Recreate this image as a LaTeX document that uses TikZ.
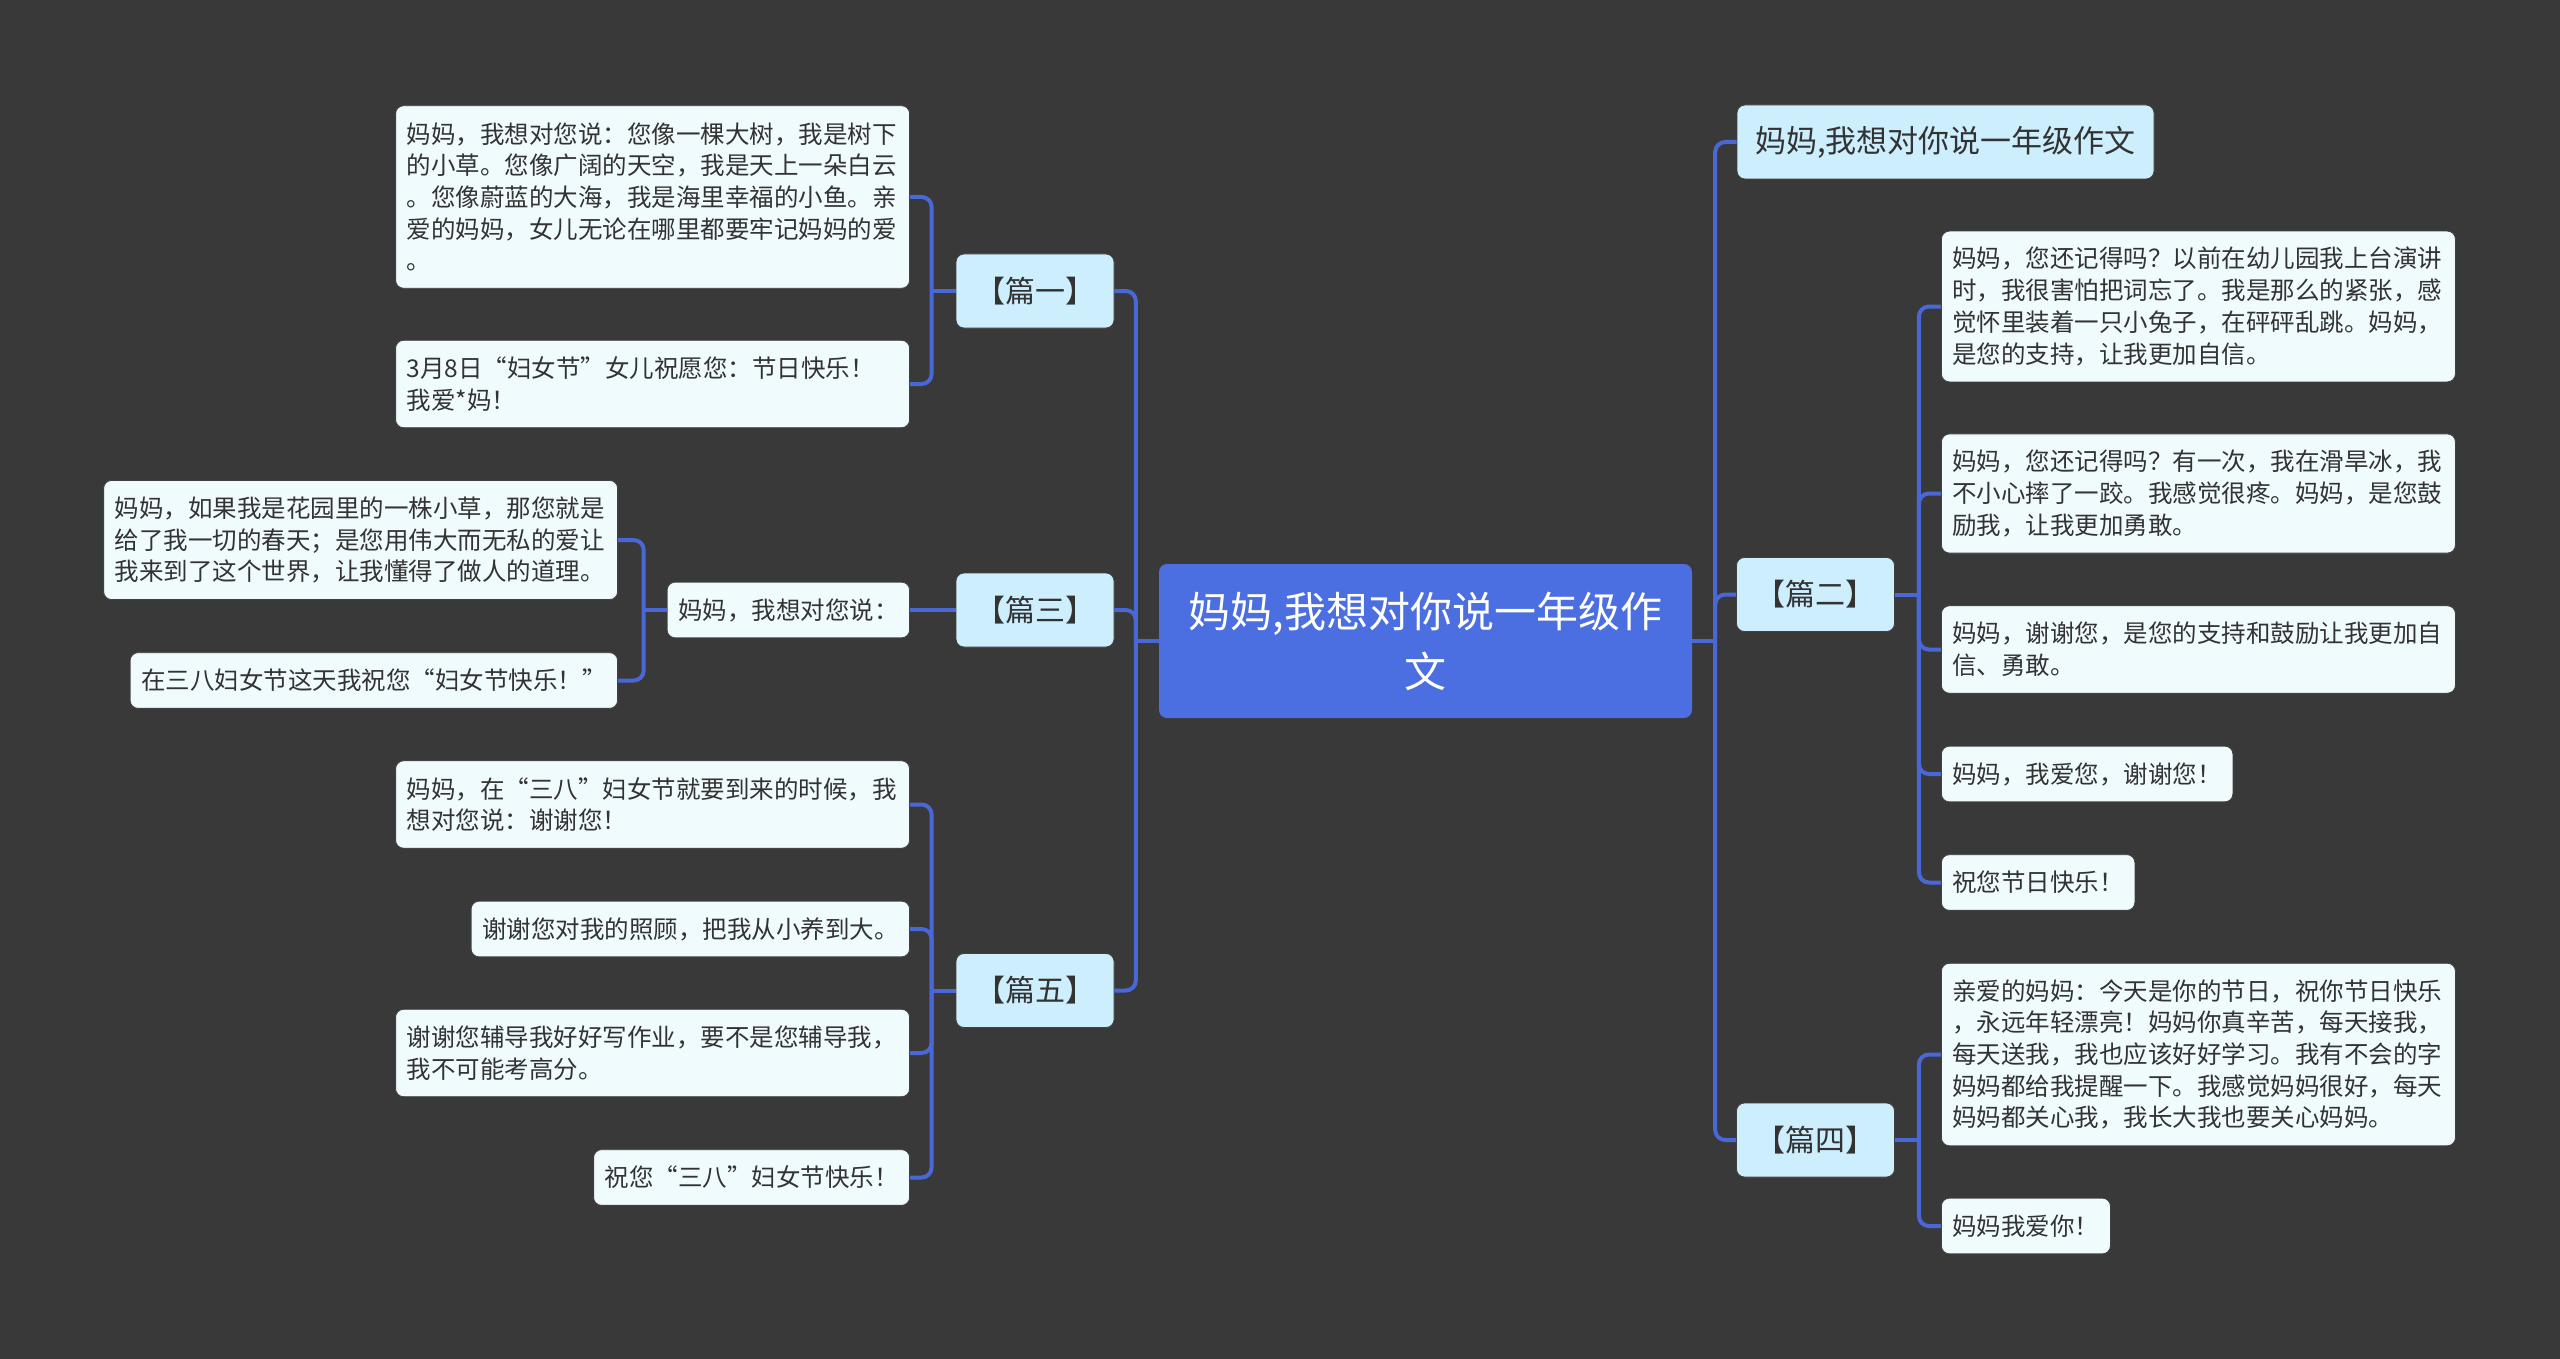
\documentclass[tikz,border=0pt]{standalone}
\usepackage{fontspec}
\setmainfont{Noto Sans CJK SC}
\usepackage{tikz}
\usetikzlibrary{calc,positioning}

\definecolor{bgcol}{HTML}{3A3939}
\definecolor{rootcol}{HTML}{4B6EE0}
\definecolor{topiccol}{HTML}{CCEEFD}
\definecolor{leafcol}{HTML}{F0FBFD}
\definecolor{linkcol}{HTML}{4A67D6}
\definecolor{txtcol}{HTML}{333333}

\begin{document}
\begin{tikzpicture}[x=1pt,y=-1pt,
	root/.style={rounded corners=8pt, fill=rootcol, text=white, align=center, minimum width=533pt, minimum height=154pt, font=\fontsize{42}{60}\selectfont},
	topic/.style={rounded corners=8pt, fill=topiccol, draw=black!75, line width=0.8pt, text=txtcol, minimum width=158pt, minimum height=74pt, font=\fontsize{30}{36}\selectfont},
	leaf/.style={rounded corners=8pt, fill=leafcol, draw=black!75, line width=0.8pt, text=txtcol, inner xsep=11pt, inner ysep=4pt, minimum height={#1*31.7pt+24pt}, font=\fontsize{24.5}{31.7}\selectfont},
	leaf/.default=1,
	wide/.style={text width=492pt, align=left},
	link/.style={draw=linkcol, line width=4pt, rounded corners=10pt}]
	
	\fill[bgcol] (0,0) rectangle (2560,1359);
	
	% centre and first level
	\node[root] (root) at (1425.5,641) {妈妈,我想对你说一年级作\\文};
	\node[topic, minimum width=417pt, font=\fontsize{31}{36}\selectfont] (t0) at (1945.5,142) {妈妈,我想对你说一年级作文};
	\node[topic] (p1) at (1035,291) {【篇一】};
	\node[topic] (p3) at (1035,610) {【篇三】};
	\node[topic] (p5) at (1035,990.5) {【篇五】};
	\node[topic] (p2) at (1815.5,594.5) {【篇二】};
	\node[topic] (p4) at (1815.5,1140) {【篇四】};
	
	% left leaves
	\node[leaf=5, wide, anchor=east] (a1) at (910,197) {妈妈，我想对您说：您像一棵大树，我是树下\\的小草。您像广阔的天空，我是天上一朵白云\\。您像蔚蓝的大海，我是海里幸福的小鱼。亲\\爱的妈妈，女儿无论在哪里都要牢记妈妈的爱\\。};
	\node[leaf=2, wide, anchor=east] (a2) at (910,384) {3月8日“妇女节”女儿祝愿您：节日快乐！\\我爱*妈！};
	\node[leaf, anchor=east] (b0) at (910,610) {妈妈，我想对您说：};
	\node[leaf=3, wide, anchor=east] (b1) at (618,540) {妈妈，如果我是花园里的一株小草，那您就是\\给了我一切的春天；是您用伟大而无私的爱让\\我来到了这个世界，让我懂得了做人的道理。};
	\node[leaf, anchor=east] (b2) at (618,680.5) {在三八妇女节这天我祝您“妇女节快乐！”};
	\node[leaf=2, wide, anchor=east] (c1) at (910,804.5) {妈妈，在“三八”妇女节就要到来的时候，我\\想对您说：谢谢您！};
	\node[leaf, anchor=east] (c2) at (910,929) {谢谢您对我的照顾，把我从小养到大。};
	\node[leaf=2, wide, anchor=east] (c3) at (910,1053) {谢谢您辅导我好好写作业，要不是您辅导我，\\我不可能考高分。};
	\node[leaf, anchor=east] (c4) at (910,1177.5) {祝您“三八”妇女节快乐！};
	
	% right leaves
	\node[leaf=4, wide, anchor=west] (d1) at (1941,306.5) {妈妈，您还记得吗？以前在幼儿园我上台演讲\\时，我很害怕把词忘了。我是那么的紧张，感\\觉怀里装着一只小兔子，在砰砰乱跳。妈妈，\\是您的支持，让我更加自信。};
	\node[leaf=3, wide, anchor=west] (d2) at (1941,493.5) {妈妈，您还记得吗？有一次，我在滑旱冰，我\\不小心摔了一跤。我感觉很疼。妈妈，是您鼓\\励我，让我更加勇敢。};
	\node[leaf=2, wide, anchor=west] (d3) at (1941,649.5) {妈妈，谢谢您，是您的支持和鼓励让我更加自\\信、勇敢。};
	\node[leaf, anchor=west] (d4) at (1941,774) {妈妈，我爱您，谢谢您！};
	\node[leaf, anchor=west] (d5) at (1941,882.5) {祝您节日快乐！};
	\node[leaf=5, wide, anchor=west] (e1) at (1941,1054.5) {亲爱的妈妈：今天是你的节日，祝你节日快乐\\，永远年轻漂亮！妈妈你真辛苦，每天接我，\\每天送我，我也应该好好学习。我有不会的字\\妈妈都给我提醒一下。我感觉妈妈很好，每天\\妈妈都关心我，我长大我也要关心妈妈。};
	\node[leaf, anchor=west] (e2) at (1941,1226) {妈妈我爱你！};
	
	% connectors
	\draw[link] (root.west) -- ++(-23,0) coordinate (jl);
	\foreach \t in {p1,p3,p5} \draw[link] (jl) |- (\t.east);
	\draw[link] (root.east) -- ++(23,0) coordinate (jr);
	\foreach \t in {t0,p2,p4} \draw[link] (jr) |- (\t.west);
	
	\draw[link] (p1.west) -- ++(-24,0) coordinate (j1);
	\foreach \t in {a1,a2} \draw[link] (j1) |- (\t.east);
	\draw[link] (p3.west) -- (b0.east);
	\draw[link] (b0.west) -- ++(-23,0) coordinate (jb);
	\foreach \t in {b1,b2} \draw[link] (jb) |- (\t.east);
	\draw[link] (p5.west) -- ++(-24,0) coordinate (j5);
	\foreach \t in {c1,c2,c3,c4} \draw[link] (j5) |- (\t.east);
	
	\draw[link] (p2.east) -- ++(24,0) coordinate (j2);
	\foreach \t in {d1,d2,d3,d4,d5} \draw[link] (j2) |- (\t.west);
	\draw[link] (p4.east) -- ++(24,0) coordinate (j4);
	\foreach \t in {e1,e2} \draw[link] (j4) |- (\t.west);
\end{tikzpicture}
\end{document}
